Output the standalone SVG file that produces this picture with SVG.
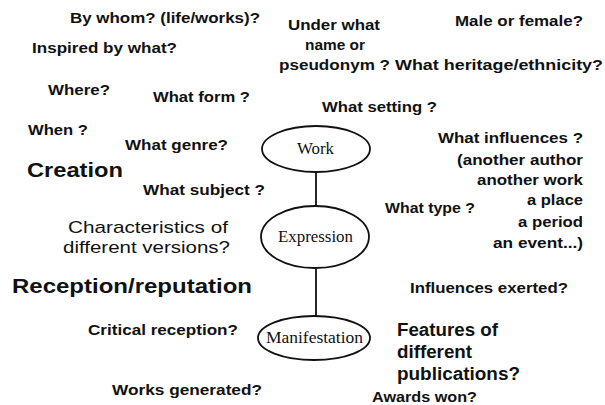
<svg xmlns="http://www.w3.org/2000/svg" width="605" height="405" viewBox="0 0 605 405">
<style>
  .q { font-family: "Liberation Sans", Arial, sans-serif; font-weight: bold; font-size: 15px; fill: #111; }
  .big { font-family: "Liberation Sans", Arial, sans-serif; font-weight: bold; font-size: 21px; fill: #111; }
  .mid { font-family: "Liberation Sans", Arial, sans-serif; font-weight: normal; font-size: 17px; fill: #111; }
  .feat { font-family: "Liberation Sans", Arial, sans-serif; font-weight: bold; font-size: 18px; fill: #111; }
  .node ellipse { fill: #fff; stroke: #111; stroke-width: 1.8; }
  .node text { font-family: "Liberation Serif", "Times New Roman", serif; font-size: 16px; fill: #111; }
  .conn line { stroke: #111; stroke-width: 1.8; }
</style>
<rect width="605" height="405" fill="#fff"/>
<g id="connectors" class="conn">
  <line x1="316" y1="172" x2="316" y2="206"/>
  <line x1="316" y1="269" x2="316" y2="316"/>
</g>
<g id="work" class="node">
  <ellipse cx="316" cy="149" rx="54" ry="23"/>
  <text x="297" y="154" textLength="37" lengthAdjust="spacingAndGlyphs">Work</text>
</g>
<g id="expression" class="node">
  <ellipse cx="315" cy="237" rx="54" ry="31"/>
  <text x="278" y="242" textLength="75" lengthAdjust="spacingAndGlyphs">Expression</text>
</g>
<g id="manifestation" class="node">
  <ellipse cx="314" cy="338" rx="56" ry="22"/>
  <text x="266" y="343" textLength="97" lengthAdjust="spacingAndGlyphs">Manifestation</text>
</g>
<g id="labels">
  <text class="q" x="70" y="23" textLength="190" lengthAdjust="spacingAndGlyphs">By whom? (life/works)?</text>
  <text class="q" x="288" y="30" textLength="92" lengthAdjust="spacingAndGlyphs">Under what</text>
  <text class="q" x="305" y="50" textLength="60" lengthAdjust="spacingAndGlyphs">name or</text>
  <text class="q" x="279" y="70" textLength="111" lengthAdjust="spacingAndGlyphs">pseudonym ?</text>
  <text class="q" x="455" y="26" textLength="128" lengthAdjust="spacingAndGlyphs">Male or female?</text>
  <text class="q" x="32" y="53" textLength="145" lengthAdjust="spacingAndGlyphs">Inspired by what?</text>
  <text class="q" x="395" y="70" textLength="208" lengthAdjust="spacingAndGlyphs">What heritage/ethnicity?</text>
  <text class="q" x="48" y="95" textLength="62" lengthAdjust="spacingAndGlyphs">Where?</text>
  <text class="q" x="153" y="102" textLength="97" lengthAdjust="spacingAndGlyphs">What form ?</text>
  <text class="q" x="322" y="112" textLength="115" lengthAdjust="spacingAndGlyphs">What setting ?</text>
  <text class="q" x="28" y="135" textLength="60" lengthAdjust="spacingAndGlyphs">When ?</text>
  <text class="q" x="125" y="150" textLength="103" lengthAdjust="spacingAndGlyphs">What genre?</text>
  <text class="q" x="438" y="143" textLength="145" lengthAdjust="spacingAndGlyphs">What influences ?</text>
  <text class="q" x="457" y="165" textLength="126" lengthAdjust="spacingAndGlyphs">(another author</text>
  <text class="q" x="477" y="185" textLength="106" lengthAdjust="spacingAndGlyphs">another work</text>
  <text class="q" x="527" y="205" textLength="56" lengthAdjust="spacingAndGlyphs">a place</text>
  <text class="q" x="518" y="227" textLength="65" lengthAdjust="spacingAndGlyphs">a period</text>
  <text class="q" x="493" y="248" textLength="90" lengthAdjust="spacingAndGlyphs">an event...)</text>
  <text class="big" x="27" y="177" textLength="96" lengthAdjust="spacingAndGlyphs">Creation</text>
  <text class="q" x="143" y="195" textLength="122" lengthAdjust="spacingAndGlyphs">What subject ?</text>
  <text class="q" x="385" y="213" textLength="90" lengthAdjust="spacingAndGlyphs">What type ?</text>
  <text class="mid" x="68" y="233" textLength="160" lengthAdjust="spacingAndGlyphs">Characteristics of</text>
  <text class="mid" x="63" y="253" textLength="167" lengthAdjust="spacingAndGlyphs">different versions?</text>
  <text class="big" x="12" y="293" textLength="240" lengthAdjust="spacingAndGlyphs">Reception/reputation</text>
  <text class="q" x="410" y="293" textLength="158" lengthAdjust="spacingAndGlyphs">Influences exerted?</text>
  <text class="q" x="88" y="335" textLength="150" lengthAdjust="spacingAndGlyphs">Critical reception?</text>
  <text class="feat" x="397" y="336" textLength="101" lengthAdjust="spacingAndGlyphs">Features of</text>
  <text class="feat" x="397" y="358" textLength="75" lengthAdjust="spacingAndGlyphs">different</text>
  <text class="feat" x="397" y="380" textLength="123" lengthAdjust="spacingAndGlyphs">publications?</text>
  <text class="q" x="112" y="395" textLength="150" lengthAdjust="spacingAndGlyphs">Works generated?</text>
  <text class="q" x="372" y="402" textLength="105" lengthAdjust="spacingAndGlyphs">Awards won?</text>
</g>
</svg>
